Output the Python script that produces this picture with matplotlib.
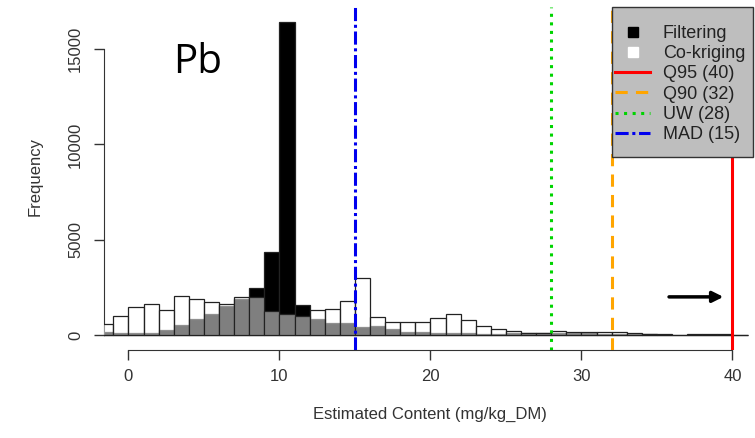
import numpy as np
import matplotlib.pyplot as plt
from matplotlib.lines import Line2D
from matplotlib.patches import Rectangle

plt.rcParams['font.family'] = ['Liberation Sans', 'DejaVu Sans']

# histogram breaks: width-1 bins starting at -2
bin_start = -2
bin_width = 1

# counts per bin (Pb, estimated content)
cokriging = [560, 1010, 1450, 1610, 1310, 2060, 1870, 1730, 1630, 2000,
             2010, 1260, 1090, 1010, 1310, 1350, 1770, 3000, 950, 700,
             700, 700, 875, 1100, 790, 470, 315, 190, 120, 110,
             200, 140, 150, 150, 150, 90, 50, 30, 10, 30,
             30, 30, 10]
filtering = [150, 90, 100, 100, 260, 525, 840, 1100, 1520, 1870,
             2480, 4340, 16440, 1575, 820, 610, 650, 440, 450, 315,
             175, 140, 130, 100, 80, 60, 50, 130, 100, 100,
             90, 100, 80, 60, 60, 40, 30, 20, 5, 20,
             20, 20, 5]

# thresholds (mg/kg_DM)
thresholds = {'Q95 (40)': 40, 'Q90 (32)': 32, 'UW (28)': 28, 'MAD (15)': 15}

xticks = [0, 10, 20, 30, 40]
yticks = [0, 5000, 10000, 15000]

edges = bin_start + bin_width * np.arange(len(cokriging))

W, H = 755, 438
fig = plt.figure(figsize=(W / 100, H / 100), dpi=100)
ax = fig.add_axes([104 / W, 1 - 350 / H, (753 - 104) / W, (350 - 7) / H])

ax.bar(edges, filtering, width=bin_width, align='edge', color='black',
       edgecolor='#222222', linewidth=0.9, zorder=2)
ax.bar(edges, cokriging, width=bin_width, align='edge', color=(1, 1, 1, 0.5),
       edgecolor='#222222', linewidth=0.9, zorder=3)

styles = {
    'Q95 (40)': dict(color='#ff0000', linestyle='-'),
    'Q90 (32)': dict(color='#ffa500', linestyle=(0, (4, 2.7))),
    'UW (28)': dict(color='#00d400', linestyle=(0, (1, 1.8))),
    'MAD (15)': dict(color='#0000ee', linestyle=(0, (4.3, 1.2, 1, 1.2))),
}
for name, xv in thresholds.items():
    ax.axvline(xv, lw=2.2, zorder=4, **styles[name])

ax.annotate('', xy=(39.4, 2000), xytext=(35.8, 2000),
            arrowprops=dict(arrowstyle='-|>', color='black', lw=2.5,
                            mutation_scale=16, shrinkA=0, shrinkB=0),
            zorder=5)

ax.set_xlim(-1.62, 41.36)
ax.set_ylim(-787, 17209)

for s in ['top', 'right']:
    ax.spines[s].set_visible(False)
ax.spines['left'].set_bounds(0, 15000)
ax.spines['bottom'].set_bounds(0, 40)
ax.spines['left'].set_color('#333333')
ax.spines['bottom'].set_color('#333333')

ax.set_xticks(xticks)
ax.set_xticklabels([str(t) for t in xticks])
ax.set_yticks(yticks)
ax.set_yticklabels([str(t) for t in yticks], rotation=90, va='center')
ax.tick_params(axis='x', direction='out', length=7, width=1, pad=7,
               labelsize=12, colors='#333333')
ax.tick_params(axis='y', direction='out', length=7, width=1, pad=8,
               labelsize=12, colors='#333333')

fig.text(430 / W, 1 - 414 / H, 'Estimated Content (mg/kg_DM)', ha='center',
         va='center', fontsize=12, color='#333333')
fig.text(35 / W, 1 - 176 / H, 'Frequency', ha='center', va='center',
         rotation=90, fontsize=12, color='#333333')
fig.text(198 / W, 1 - 73 / H, 'Pb', ha='center', va='baseline',
         fontsize=29, family='Open Sans', color='black')

# legend box drawn by hand so the padding can be uneven
box = Rectangle((612 / W, 1 - 157 / H), 141 / W, 150 / H,
                transform=fig.transFigure, facecolor='#bebebe',
                edgecolor='#333333', lw=1, clip_on=False, zorder=9)
ax.add_patch(box)

handles = [
    Line2D([], [], marker='s', color='none', markerfacecolor='black',
           markeredgecolor='black', markersize=7),
    Line2D([], [], marker='s', color='none', markerfacecolor='white',
           markeredgecolor='white', markersize=7),
]
for name in thresholds:
    handles.append(Line2D([], [], lw=2.2, **styles[name]))
labels = ['Filtering', 'Co-kriging'] + list(thresholds)

leg = ax.legend(handles, labels, loc='upper left',
                bbox_to_anchor=(615 / W, 1 - 25 / H),
                bbox_transform=fig.transFigure, frameon=False,
                borderpad=0, borderaxespad=0, fontsize=13,
                handlelength=1.95, labelspacing=0.18, handletextpad=0.7)
leg.set_zorder(10)
for t in leg.get_texts():
    t.set_color('#222222')

fig.savefig('out.png', dpi=100)
